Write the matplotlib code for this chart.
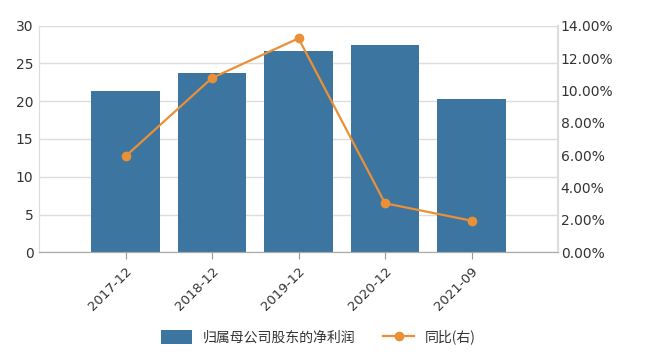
import matplotlib
matplotlib.use("Agg")
import matplotlib.pyplot as plt
from matplotlib.ticker import FuncFormatter, MultipleLocator

plt.rcParams['font.family'] = ['DejaVu Sans', 'Noto Sans CJK SC']

categories = ['2017-12', '2018-12', '2019-12', '2020-12', '2021-09']
profit = [21.4, 23.7, 26.7, 27.5, 20.3]
yoy = [5.93, 10.77, 13.22, 3.03, 1.95]
bar_label = '归属母公司股东的净利润'
line_label = '同比(右)'

bar_color = '#3b75a0'
line_color = '#ea9037'
text_color = '#333333'
grid_color = '#dddddd'

fig = plt.figure(figsize=(6.5, 3.58), dpi=100)
ax = fig.add_axes([0.06, 0.2953, 0.7985, 0.6329])
ax2 = ax.twinx()

x = list(range(len(categories)))
bars = ax.bar(x, profit, width=0.79, color=bar_color, zorder=2, label=bar_label)
line, = ax2.plot(x, yoy, color=line_color, marker='o', markersize=6, linewidth=1.6,
                 zorder=3, label=line_label)

ax.set_xlim(-1, len(categories))
ax.set_ylim(0, 30)
ax2.set_ylim(0, 14)
ax.yaxis.set_major_locator(MultipleLocator(5))
ax2.yaxis.set_major_locator(MultipleLocator(2))
ax2.yaxis.set_major_formatter(FuncFormatter(lambda v, p: f"{v:.2f}%"))

ax.set_xticks(x)
ax.set_xticklabels(categories, rotation=45, ha='right', rotation_mode='anchor',
                   fontsize=9.5, color=text_color)
ax.tick_params(axis='x', length=5, color='#999999', pad=4)
ax.tick_params(axis='y', length=0, labelsize=10, labelcolor=text_color, pad=4)
ax2.tick_params(axis='y', length=0, labelsize=10, labelcolor=text_color, pad=2)

ax.grid(axis='y', color=grid_color, linewidth=1, zorder=0)
ax.set_axisbelow(True)
for a in (ax, ax2):
    a.spines['top'].set_visible(False)
    a.spines['left'].set_color(grid_color)
    a.spines['right'].set_color(grid_color)
    a.spines['bottom'].set_color('#aaaaaa')
ax2.spines['right'].set_linewidth(1.5)

ax.set_zorder(ax2.get_zorder() - 1)
ax2.patch.set_visible(False)

fig.legend([bars, line], [bar_label, line_label], loc='center',
           bbox_to_anchor=(0.49, 0.058), ncol=2, frameon=False,
           prop={'family': ['Noto Sans CJK SC', 'DejaVu Sans'], 'size': 10},
           handlelength=2.2, handleheight=1.2, columnspacing=2.0,
           labelcolor=text_color)

fig.savefig('out.png', dpi=100)
